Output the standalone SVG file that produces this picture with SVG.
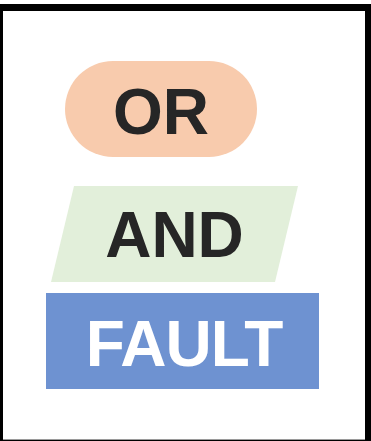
<svg xmlns="http://www.w3.org/2000/svg" width="371" height="441" viewBox="0 0 371 441">
<style>
.t{font-family:"Liberation Sans",Arial,sans-serif;font-weight:bold;font-size:64px;text-anchor:middle}
.dark{fill:#262626}
.light{fill:#ffffff}
</style>
<rect x="0" y="0" width="371" height="441" fill="#ffffff"/>
<rect x="0" y="4" width="371" height="437" fill="#000000"/>
<rect x="3" y="11" width="362" height="428" fill="#ffffff"/>
<line x1="3" y1="439.5" x2="365" y2="439.5" stroke="#9a9a9a" stroke-width="1"/>
<g id="connectors"/>
<g id="node-or">
<rect x="65" y="61" width="192" height="96" rx="48" ry="48" fill="#F8CBAD"/>
<text class="t dark" x="161" y="134">OR</text>
</g>
<g id="node-and">
<polygon points="74,186 298,186 275,282 51,282" fill="#E2EFDA"/>
<text class="t dark" x="174.5" y="257">AND</text>
</g>
<g id="node-fault">
<rect x="46" y="293" width="273" height="96" fill="#6E92D1"/>
<text class="t light" x="184" y="366" letter-spacing="-1">FAULT</text>
</g>
</svg>
